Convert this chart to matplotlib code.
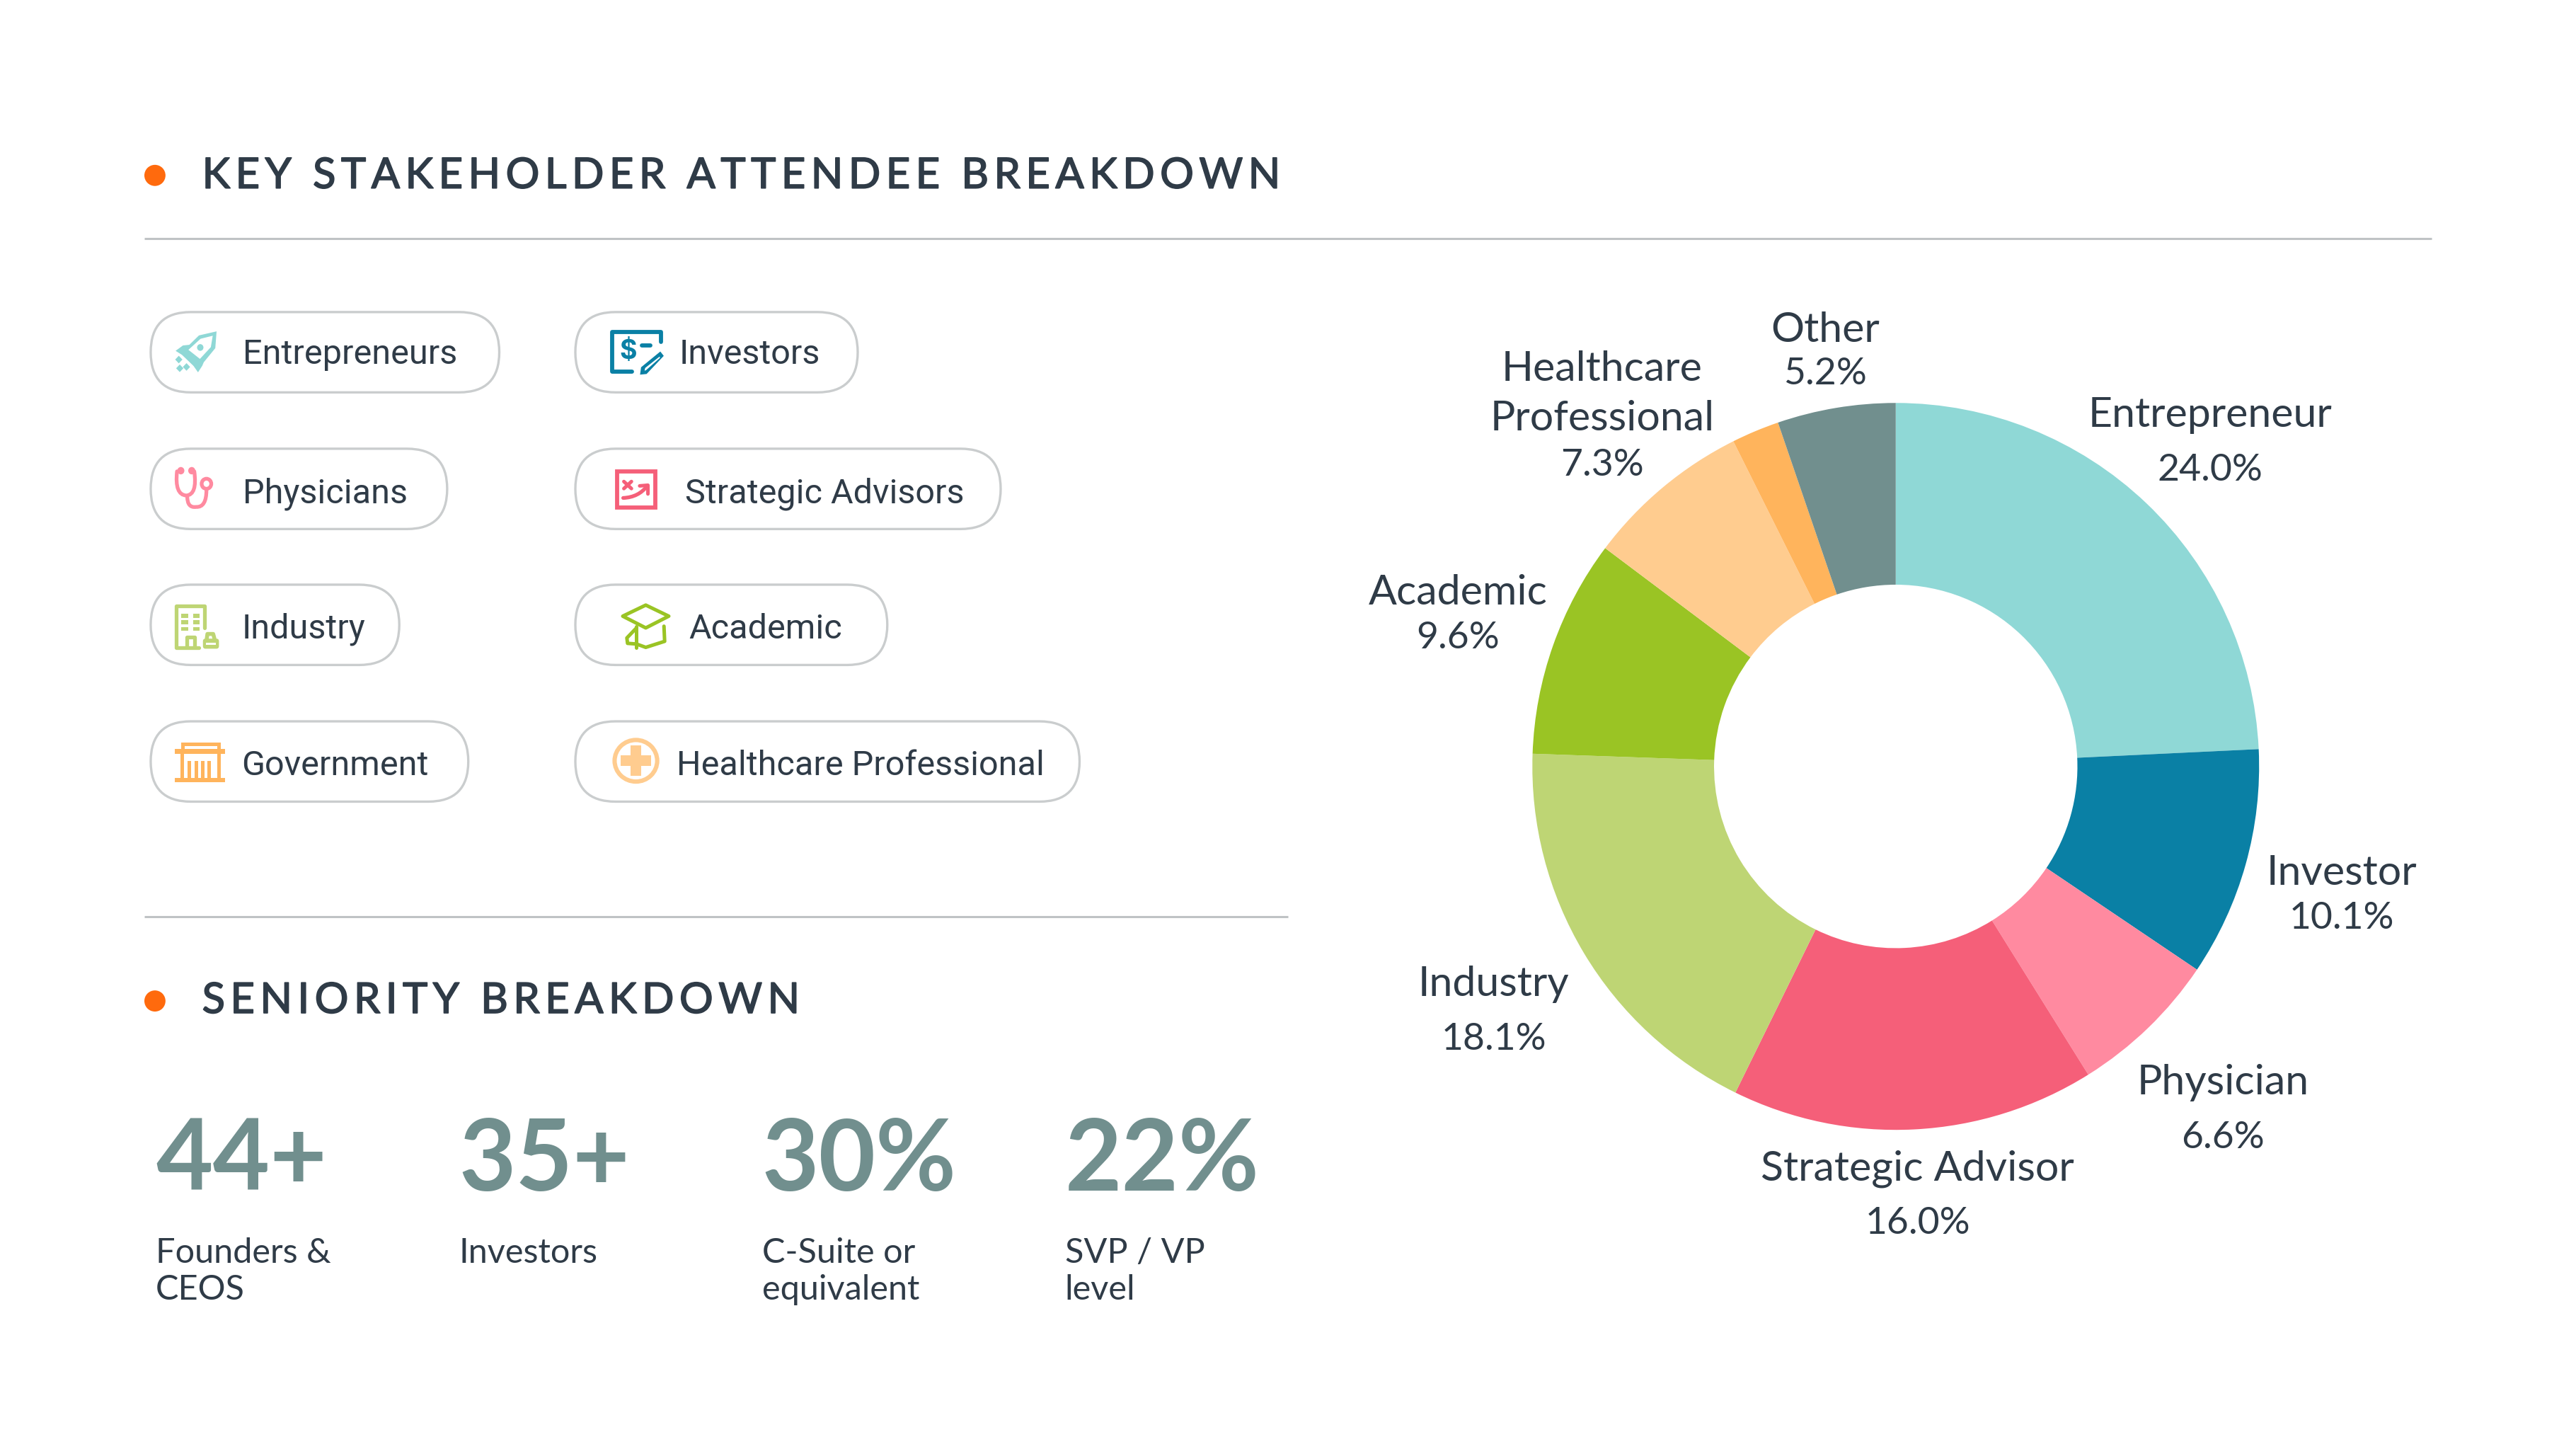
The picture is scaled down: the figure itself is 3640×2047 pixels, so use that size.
#!/usr/bin/env python3
# -*- coding: utf-8 -*-
import matplotlib
matplotlib.use('Agg')
import matplotlib.pyplot as plt
import matplotlib.patheffects as pe
from matplotlib.patches import FancyBboxPatch, Circle, Polygon, Rectangle, PathPatch
from matplotlib.path import Path
from matplotlib.transforms import Affine2D

# donut data, clockwise from the top (Government has no label in the chart)
segments = ['Entrepreneur', 'Investor', 'Physician', 'Strategic Advisor', 'Industry',
            'Academic', 'Healthcare Professional', 'Government', 'Other']
shares = [24.0, 10.1, 6.6, 16.0, 18.1, 9.6, 7.3, 2.1, 5.2]
segment_colors = ['#8FD8D6', '#0A80A5', '#FF8AA0', '#F55F79', '#BED574',
                  '#9AC424', '#FFCC8F', '#FFB45C', '#718F8E']

pills_left = ['Entrepreneurs', 'Physicians', 'Industry', 'Government']
pills_right = ['Investors', 'Strategic Advisors', 'Academic', 'Healthcare Professional']

stat_values = ['44+', '35+', '30%', '22%']
stat_labels = [['Founders &', 'CEOS'], ['Investors'], ['C-Suite or', 'equivalent'], ['SVP / VP', 'level']]

DARK = '#2F3B47'
SAGE = '#718F8E'
ORANGE = '#FF6A0D'
RULE = '#BFC3C5'
PILL = '#CACDCE'
W, H = 3640, 2047
# layout numbers below were read in these units, slightly larger than the pixel grid
LW, LH = 3658.0, 2057.0

fig = plt.figure(figsize=(W / 100, H / 100), dpi=100, facecolor='white')
ax = fig.add_axes([0, 0, 1, 1])
ax.set_xlim(0, LW)
ax.set_ylim(LH, 0)
ax.axis('off')

LABEL_FONT = ['Lato', 'DejaVu Sans']
PILL_FONT = 'Roboto'


def spaced(s, n=2):
    # no letter spacing in matplotlib, so use hair spaces
    return ('\u200a' * n).join(s)


# headers
ax.plot([205, 3453], [339, 339], color=RULE, lw=2.2, solid_capstyle='butt')
ax.plot([205, 1829], [1301, 1301], color=RULE, lw=2.2, solid_capstyle='butt')
for y in [249, 1421]:
    ax.add_patch(Circle((220, y), 15, color=ORANGE, lw=0))
heavier = [pe.withStroke(linewidth=1.2, foreground=DARK)]
ax.text(287, 267, spaced('KEY STAKEHOLDER ATTENDEE BREAKDOWN'), family=LABEL_FONT,
        fontsize=43, color=DARK, va='baseline', path_effects=heavier)
ax.text(287, 1438, spaced('SENIORITY BREAKDOWN'), family=LABEL_FONT,
        fontsize=43, color=DARK, va='baseline', path_effects=heavier)

# pills
pill_rows = [443, 637, 830, 1024]
left_ends = [709, 635, 567, 665]
right_ends = [1218, 1421, 1260, 1533]
left_text_x = [345, 345, 343, 343]
right_text_x = [964, 973, 978, 961]
text_y = [517, 714, 906, 1100]
for i in range(4):
    ax.add_patch(FancyBboxPatch((214, pill_rows[i]), left_ends[i] - 214, 114,
                                boxstyle='round,pad=0,rounding_size=57', fc='white', ec=PILL, lw=2.4))
    ax.add_patch(FancyBboxPatch((817, pill_rows[i]), right_ends[i] - 817, 114,
                                boxstyle='round,pad=0,rounding_size=57', fc='white', ec=PILL, lw=2.4))
    ax.text(left_text_x[i], text_y[i], pills_left[i], family=PILL_FONT, fontsize=35, color=DARK, va='baseline')
    ax.text(right_text_x[i], text_y[i], pills_right[i], family=PILL_FONT, fontsize=35, color=DARK, va='baseline')


def icon_tf(cx, cy, zx, zy, sx=2.2, sy=2.1):
    return Affine2D().translate(-zx, -zy).scale(1 / sx, 1 / sy).translate(cx, cy) + ax.transData


def stroke(pts, tf, color, lw=3.2, curved=False):
    if curved:
        codes = [Path.MOVETO] + [Path.CURVE3] * (len(pts) - 1)
        ax.add_patch(PathPatch(Path(pts, codes), fc='none', ec=color, lw=lw, transform=tf, capstyle='round'))
    else:
        xs, ys = zip(*pts)
        ax.plot(xs, ys, color=color, lw=lw, transform=tf, solid_capstyle='round', solid_joinstyle='round')


def fill(pts, tf, color):
    ax.add_patch(Polygon(pts, closed=True, fc=color, ec='none', transform=tf))


# rocket
c = segment_colors[0]
t = icon_tf(278, 499, 215, 160)
fill([(280, 100), (276, 150), (240, 192), (235, 203), (222, 222), (208, 203), (172, 170), (152, 158),
      (175, 142), (195, 140), (225, 112)], t, c)
fill([(268, 113), (262, 147), (228, 182), (192, 155), (230, 122)], t, 'white')
ax.add_patch(Circle((229, 148), 10, fc=c, ec='none', transform=t))
for q in [(162, 184), (186, 206), (165, 210)]:
    ax.add_patch(Rectangle((q[0] - 8, q[1] - 8), 16, 16, angle=45, rotation_point='center', fc=c, ec='none', transform=t))

# stethoscope
c = segment_colors[2]
t = icon_tf(275, 692, 210, 578)
stroke([(158, 530), (150, 600), (187, 602), (222, 600), (212, 530)], t, c, lw=3.8, curved=True)
stroke([(190, 605), (190, 640), (218, 636), (250, 638), (250, 585)], t, c, lw=3.8, curved=True)
for q in [(170, 528), (204, 528)]:
    ax.add_patch(Circle(q, 11, fc=c, ec='none', transform=t))
ax.add_patch(Circle((250, 567), 15, fc='white', ec=c, lw=3.8, transform=t))

# building with small lock
c = segment_colors[4]
t = icon_tf(280, 889, 222, 985)
stroke([(245, 990), (245, 925), (156, 925), (156, 1048), (228, 1048)], t, c, lw=3.8)
for yy in [954, 973, 993]:
    for xx in [183, 219]:
        ax.add_patch(Rectangle((xx - 10, yy - 6), 20, 12, fc=c, ec='none', transform=t))
stroke([(190, 1046), (190, 1018), (215, 1018), (215, 1046)], t, c, lw=3.8)
ax.add_patch(FancyBboxPatch((240, 1022), 50, 30, boxstyle='round,pad=0,rounding_size=8', fc=c, ec='none', transform=t))
stroke([(252, 1022), (254, 1008), (272, 1008), (276, 1022)], t, c, lw=4)
ax.add_patch(Rectangle((250, 1034), 30, 7, fc='white', ec='none', transform=t))

# government building
c = segment_colors[7]
t = icon_tf(284, 1082, 230, 1395)
ax.add_patch(Rectangle((176, 1340), 112, 22, fc='none', ec=c, lw=3.6, transform=t))
ax.add_patch(Rectangle((151, 1356), 158, 14, fc=c, ec='none', transform=t))
ax.add_patch(Rectangle((151, 1442), 158, 12, fc=c, ec='none', transform=t))
for xx in [168, 192, 213, 234, 254, 284]:
    ax.add_patch(Rectangle((xx, 1370 if xx in (168, 284) else 1392), 11, 72 if xx in (168, 284) else 50,
                           fc=c, ec='none', transform=t))

# investor cheque
c = segment_colors[1]
t = icon_tf(905, 499, 225, 165, sx=2.05)
stroke([(210, 224), (152, 224), (152, 106), (294, 106), (294, 136)], t, c, lw=4.2)
ax.text(199, 165, '$', fontsize=27, weight='bold', family='Inter', color=c, ha='center', va='center', transform=t)
stroke([(238, 147), (262, 147)], t, c, lw=4.2)
fill([(292, 165), (302, 178), (252, 232), (233, 234), (236, 212)], t, c)
fill([(290, 180), (291, 184), (250, 221), (246, 222), (248, 214)], t, 'white')

# strategy board
c = segment_colors[3]
t = icon_tf(903, 695, 217, 577, sx=2.05)
ax.add_patch(Rectangle((162, 523), 111, 107, fc='none', ec=c, lw=4.2, transform=t))
stroke([(182, 553), (204, 574)], t, c, lw=3.6)
stroke([(204, 553), (182, 574)], t, c, lw=3.6)
stroke([(180, 602), (225, 600), (250, 566)], t, c, lw=3.8, curved=True)
stroke([(228, 566), (252, 564), (252, 590)], t, c, lw=3.6)

# graduation cap
c = segment_colors[5]
t = icon_tf(917, 889, 245, 985, sx=2.05)
ax.add_patch(Polygon([(245, 922), (312, 955), (245, 990), (178, 955)], closed=True, fc='white', ec=c, lw=3.6,
                     joinstyle='round', transform=t))
stroke([(218, 990), (190, 1020), (192, 1036), (218, 1038), (245, 1048), (300, 1030), (298, 985)], t, c, lw=3.6)
stroke([(218, 985), (218, 1050)], t, c, lw=3.6)

# healthcare cross
c = segment_colors[6]
t = icon_tf(903, 1080, 216, 1385, sx=2.05)
ax.add_patch(Circle((216, 1385), 62, fc='white', ec=c, lw=4.4, transform=t))
ax.add_patch(Rectangle((200, 1340), 32, 90, fc=c, ec='none', transform=t))
ax.add_patch(Rectangle((172, 1369), 88, 32, fc=c, ec='none', transform=t))

# stats at the bottom
stat_x = [221, 652, 1082, 1512]
for x, val, lab in zip(stat_x, stat_values, stat_labels):
    ax.text(x, 1690, val, family=LABEL_FONT, weight='bold', fontsize=100, color=SAGE, va='baseline')
    for k, line in enumerate(lab):
        ax.text(x, 1793 + 52 * k, line, family=LABEL_FONT, fontsize=35, color=DARK, va='baseline')

# donut
cx, cy, R = 2692, 1088, 516
ax2 = fig.add_axes([(cx - R) / LW, 1 - (cy + R) / LH, 2 * R / LW, 2 * R / LH])
ax2.pie(shares, colors=segment_colors, startangle=90, counterclock=False, radius=1,
        wedgeprops=dict(width=0.5, edgecolor='none'))
ax2.set_xlim(-1, 1)
ax2.set_ylim(-1, 1)
ax2.axis('off')

# segment labels, Government stays unlabelled in the source
label_text = [['Entrepreneur', '24.0%'], ['Investor', '10.1%'], ['Physician', '6.6%'],
              ['Strategic Advisor', '16.0%'], ['Industry', '18.1%'], ['Academic', '9.6%'],
              ['Healthcare', 'Professional', '7.3%'], ['Other', '5.2%']]
label_x = [3138, 3325, 3157, 2723, 2121, 2070, 2275, 2592]
label_y = [[606, 682], [1256, 1318], [1554, 1630], [1676, 1752], [1414, 1490], [858, 920],
           [541, 611, 675], [485, 546]]
for lines, x, ys in zip(label_text, label_x, label_y):
    for line, y in zip(lines, ys):
        ax.text(x, y, line, family=LABEL_FONT, fontsize=42.5 if '%' not in line else 38.5, color=DARK,
                ha='center', va='baseline')

fig.savefig('out.png', dpi=100, facecolor='white')
